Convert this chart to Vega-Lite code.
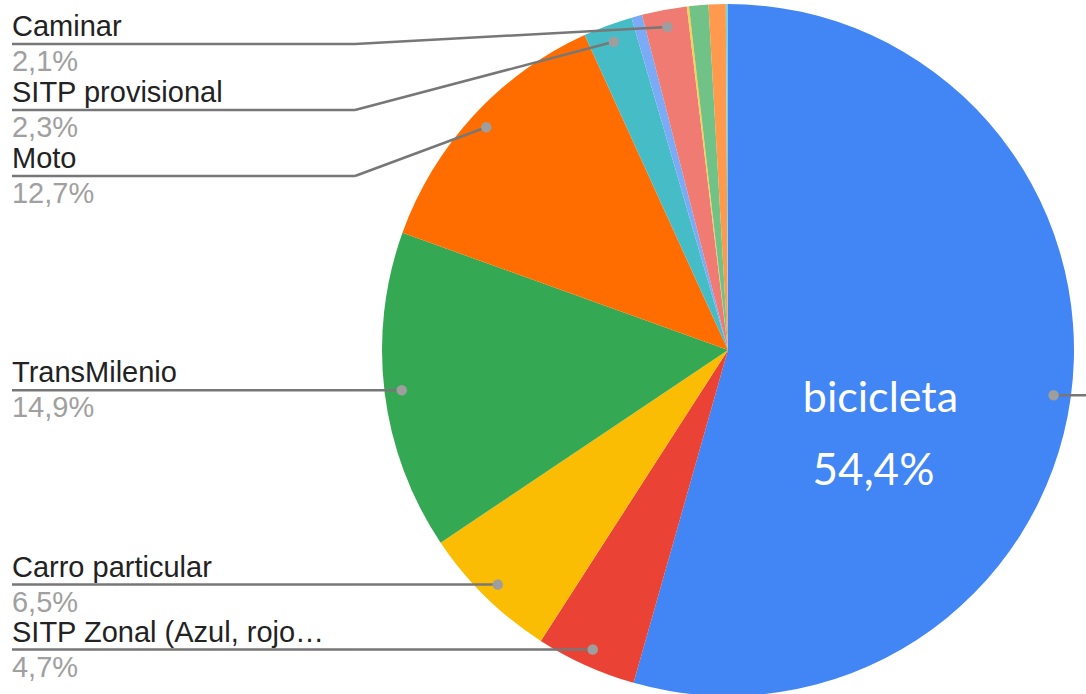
{
  "$schema": "https://vega.github.io/schema/vega-lite/v6.json",
  "width": 1086,
  "height": 694,
  "autosize": {"type": "none"},
  "padding": 0,
  "background": "white",
  "config": {"view": {"stroke": null}},
  "data": {
    "values": [
      {"modo": "bicicleta", "pct": 54.4, "orden": 1},
      {"modo": "SITP Zonal (Azul, rojo…", "pct": 4.7, "orden": 2},
      {"modo": "Carro particular", "pct": 6.5, "orden": 3},
      {"modo": "TransMilenio", "pct": 14.9, "orden": 4},
      {"modo": "Moto", "pct": 12.7, "orden": 5},
      {"modo": "SITP provisional", "pct": 2.3, "orden": 6},
      {"modo": "Otro 1", "pct": 0.5, "orden": 7},
      {"modo": "Caminar", "pct": 2.1, "orden": 8},
      {"modo": "Otro 2", "pct": 0.1, "orden": 9},
      {"modo": "Otro 3", "pct": 0.9, "orden": 10},
      {"modo": "Otro 4", "pct": 0.8, "orden": 11},
      {"modo": "Otro 5", "pct": 0.1, "orden": 12}
    ]
  },
  "transform": [
    {"joinaggregate": [{"op": "sum", "field": "pct", "as": "total"}]},
    {"window": [{"op": "sum", "field": "pct", "as": "cum"}], "sort": [{"field": "orden"}], "frame": [null, 0]},
    {"calculate": "2*PI*(datum.cum - datum.pct/2)/datum.total", "as": "mid"},
    {"calculate": "0.95*sin(datum.mid)", "as": "px"},
    {"calculate": "0.95*cos(datum.mid)", "as": "py"},
    {"calculate": "0", "as": "centro"},
    {"calculate": "-2.0694", "as": "xl"},
    {"calculate": "-1.078", "as": "xb"},
    {"calculate": "1.03468", "as": "xr"},
    {"calculate": "replace(format(datum.pct, '.1f'), '.', ',') + '%'", "as": "etiqueta"}
  ],
  "encoding": {
    "x": {"type": "quantitative", "axis": null, "scale": {"domain": [-2.10405, 1.03468], "nice": false, "zero": false}},
    "y": {"type": "quantitative", "axis": null, "scale": {"domain": [-0.99422, 1.01156], "nice": false, "zero": false}}
  },
  "layer": [
    {
      "mark": {"type": "arc", "outerRadius": 346},
      "encoding": {
        "theta": {"field": "pct", "type": "quantitative", "stack": true},
        "order": {"field": "orden", "type": "quantitative"},
        "color": {
          "field": "modo",
          "type": "nominal",
          "legend": null,
          "scale": {
            "domain": ["bicicleta", "SITP Zonal (Azul, rojo…", "Carro particular", "TransMilenio", "Moto", "SITP provisional", "Otro 1", "Caminar", "Otro 2", "Otro 3", "Otro 4", "Otro 5"],
            "range": ["#4285F4", "#EA4335", "#FBBC04", "#34A853", "#FF6D01", "#46BDC6", "#7BAAF7", "#F07B72", "#FCD04F", "#71C287", "#FF994D", "#7ED1D7"]
          }
        },
        "x": {"field": "centro", "type": "quantitative", "axis": null, "scale": {"domain": [-2.10405, 1.03468], "nice": false, "zero": false}},
        "y": {"field": "centro", "type": "quantitative", "axis": null, "scale": {"domain": [-0.99422, 1.01156], "nice": false, "zero": false}}
      }
    },
    {
      "transform": [
        {"filter": "datum.pct >= 2 && datum.modo != 'bicicleta'"},
        {"window": [{"op": "row_number", "as": "rk"}], "sort": [{"field": "py", "order": "descending"}]},
        {"calculate": "min(datum.py, 0.8844 - (datum.rk - 1) * 0.1908)", "as": "ly"}
      ],
      "layer": [
        {
          "mark": {"type": "rule", "color": "#777777", "strokeWidth": 2.5},
          "encoding": {
            "x": {"field": "xl", "type": "quantitative"},
            "x2": {"field": "xb"},
            "y": {"field": "ly", "type": "quantitative"}
          }
        },
        {
          "mark": {"type": "rule", "color": "#777777", "strokeWidth": 2.5},
          "encoding": {
            "x": {"field": "xb", "type": "quantitative"},
            "y": {"field": "ly", "type": "quantitative"},
            "x2": {"field": "px"},
            "y2": {"field": "py"}
          }
        },
        {
          "mark": {"type": "text", "align": "left", "baseline": "alphabetic", "dy": -8, "font": "Liberation Sans", "fontSize": 29, "color": "#222222"},
          "encoding": {
            "x": {"field": "xl", "type": "quantitative"},
            "y": {"field": "ly", "type": "quantitative"},
            "text": {"field": "modo"}
          }
        },
        {
          "mark": {"type": "text", "align": "left", "baseline": "alphabetic", "dy": 27, "font": "Liberation Sans", "fontSize": 29, "color": "#a0a0a0"},
          "encoding": {
            "x": {"field": "xl", "type": "quantitative"},
            "y": {"field": "ly", "type": "quantitative"},
            "text": {"field": "etiqueta"}
          }
        }
      ]
    },
    {
      "transform": [{"filter": "datum.modo == 'bicicleta'"}],
      "mark": {"type": "rule", "color": "#777777", "strokeWidth": 2.5},
      "encoding": {
        "x": {"field": "px", "type": "quantitative"},
        "x2": {"field": "xr"},
        "y": {"field": "py", "type": "quantitative"}
      }
    },
    {
      "transform": [{"filter": "datum.pct >= 2"}],
      "mark": {"type": "point", "filled": true, "color": "#9e9e9e", "opacity": 1, "size": 110},
      "encoding": {
        "x": {"field": "px", "type": "quantitative"},
        "y": {"field": "py", "type": "quantitative"}
      }
    },
    {
      "transform": [
        {"filter": "datum.modo == 'bicicleta'"},
        {"calculate": "0.445*sin(datum.mid)", "as": "bx"},
        {"calculate": "0.445*cos(datum.mid)", "as": "by"}
      ],
      "layer": [
        {
          "mark": {"type": "text", "align": "center", "baseline": "alphabetic", "dy": 41, "font": "Lato", "fontSize": 43, "color": "white"},
          "encoding": {
            "x": {"field": "bx", "type": "quantitative"},
            "y": {"field": "by", "type": "quantitative"},
            "text": {"field": "modo"}
          }
        },
        {
          "mark": {"type": "text", "align": "center", "baseline": "alphabetic", "dy": 114, "dx": -7, "font": "Lato", "fontSize": 44, "color": "white"},
          "encoding": {
            "x": {"field": "bx", "type": "quantitative"},
            "y": {"field": "by", "type": "quantitative"},
            "text": {"field": "etiqueta"}
          }
        }
      ]
    }
  ]
}
